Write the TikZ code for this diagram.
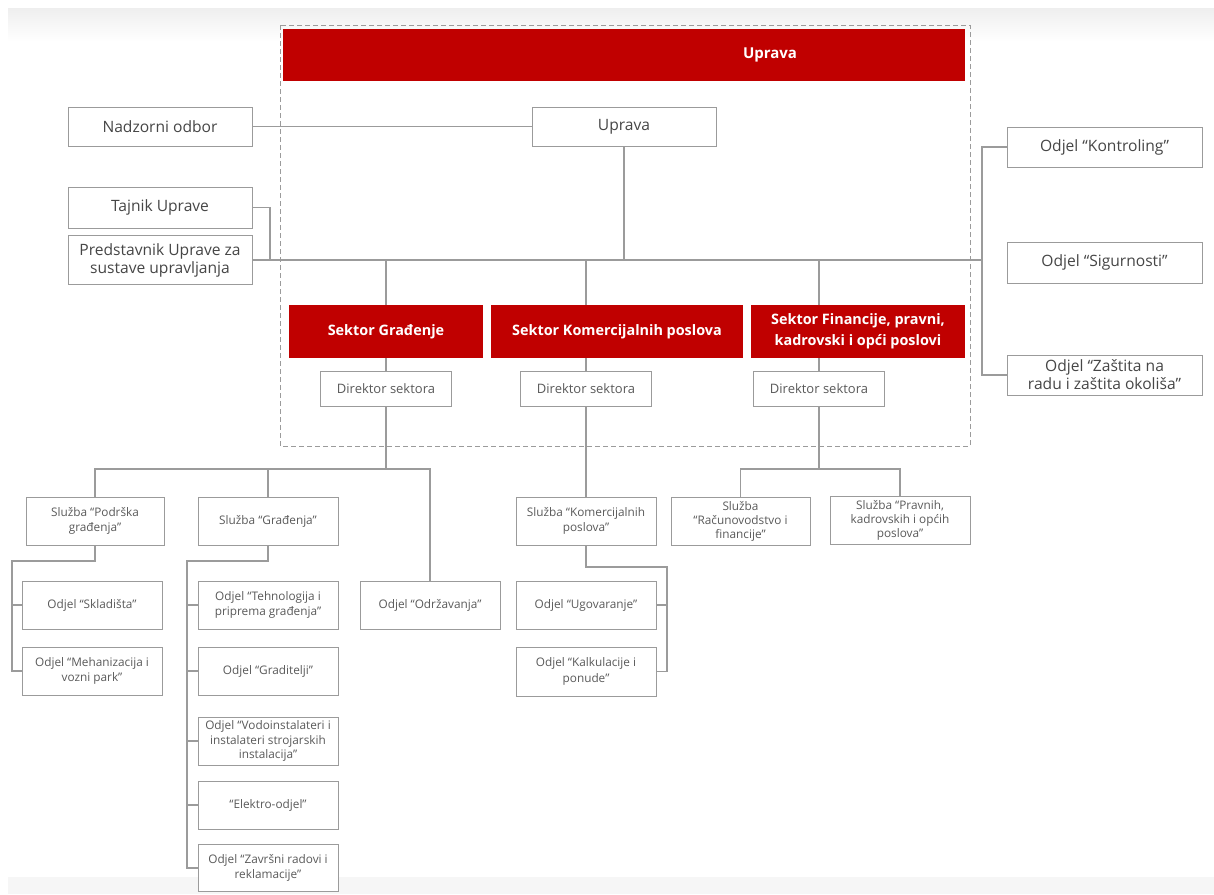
\documentclass[tikz,border=0pt]{standalone}
\usepackage{fontspec}
\setmainfont{Open Sans}
\definecolor{rred}{RGB}{192,0,0}
\definecolor{lgray}{RGB}{155,155,155}
\definecolor{tgray}{RGB}{70,70,70}
\definecolor{sgray}{RGB}{90,90,90}
\tikzset{
  box/.style={draw=lgray, line width=1pt, fill=white, inner sep=0pt, align=center, text=tgray, font=\fontsize{15.6}{18}\selectfont},
  smallbox/.style={draw=lgray, line width=1pt, fill=white, inner sep=0pt, align=center, text=sgray, font=\fontsize{11.8}{15.5}\selectfont, minimum width=140pt, minimum height=48pt},
  dirbox/.style={draw=lgray, line width=1pt, fill=white, inner sep=0pt, align=center, text=sgray, font=\fontsize{13}{15}\selectfont, minimum width=131pt, minimum height=35pt},
  redbox/.style={fill=rred, inner sep=0pt, align=center, text=white, font=\fontsize{14.4}{20.5}\selectfont\bfseries, minimum height=53pt},
  conn/.style={draw=lgray, line width=1.1pt},
}
\begin{document}
\begin{tikzpicture}[x=1pt,y=-1pt]
\useasboundingbox (0,0) rectangle (1214,894);
% background
\fill[white] (0,0) rectangle (1214,894);
\shade[top color=gray!13, bottom color=white] (8,8) rectangle (1214,42);
\fill[gray!7] (8,877) rectangle (1214,894);

% dashed container
\draw[lgray, dashed, line width=0.9pt, dash pattern=on 5pt off 3pt] (280,25) rectangle (970,446);

% banner
\node[redbox, minimum width=682pt, minimum height=52pt] (banner) at (624,55) {};
\node[text=white, font=\fontsize{15}{18}\selectfont\bfseries, inner sep=0pt] (bannerlabel) at (770,55) {Uprava};

% top level
\node[box, minimum width=184pt, minimum height=39pt] (uprava) at (624,126.5) {Uprava};
\node[box, minimum width=184pt, minimum height=39pt] (nadzor) at (160,126.5) {Nadzorni odbor};
\node[box, minimum width=184pt, minimum height=41pt] (tajnik) at (160,207.5) {Tajnik Uprave};
\node[box, minimum width=184pt, minimum height=49pt] (predst) at (160,260) {Predstavnik Uprave za\\sustave upravljanja};

\node[box, minimum width=195pt, minimum height=40pt] (kontrol) at (1104.5,147) {Odjel “Kontroling”};
\node[box, minimum width=195pt, minimum height=41pt] (sigurn) at (1104.5,262.5) {Odjel “Sigurnosti”};
\node[box, minimum width=195pt, minimum height=40pt] (zastita) at (1104.5,375) {Odjel “Zaštita na\\radu i zaštita okoliša”};

% sectors
\node[redbox, minimum width=194pt] (sekG) at (386,331.5) {Sektor Građenje};
\node[redbox, minimum width=252pt] (sekK) at (617,331.5) {Sektor Komercijalnih poslova};
\node[redbox, minimum width=214pt] (sekF) at (858,331.5) {Sektor Financije, pravni,\\kadrovski i opći poslovi};

\node[dirbox] (dirG) at (386,388.5) {Direktor sektora};
\node[dirbox] (dirK) at (586,388.5) {Direktor sektora};
\node[dirbox] (dirF) at (819,388.5) {Direktor sektora};

% Gradjenje branch
\node[smallbox, minimum width=138pt] (podrska) at (95,521) {Služba “Podrška\\građenja”};
\node[smallbox] (sgradj) at (268,521) {Služba “Građenja”};
\node[smallbox] (odrz) at (430,605) {Odjel “Održavanja”};
\node[smallbox] (sklad) at (92,605) {Odjel “Skladišta”};
\node[smallbox] (mehan) at (92,671) {Odjel “Mehanizacija i\\vozni park”};
\node[smallbox] (tehno) at (268,605) {Odjel “Tehnologija i\\priprema građenja”};
\node[smallbox] (gradit) at (268,671) {Odjel “Graditelji”};
\node[smallbox, font=\fontsize{11.8}{14.5}\selectfont] (vodo) at (268,741) {Odjel “Vodoinstalateri i\\instalateri strojarskih\\instalacija”};
\node[smallbox] (elektro) at (268,805) {“Elektro-odjel”};
\node[smallbox, minimum height=47pt] (zavrs) at (268,868) {Odjel “Završni radovi i\\reklamacije”};

% Komercijalni branch
\node[smallbox] (skom) at (586,521) {Služba “Komercijalnih\\poslova”};
\node[smallbox] (ugov) at (586,605) {Odjel “Ugovaranje”};
\node[smallbox, minimum height=49pt] (kalk) at (586,671.5) {Odjel “Kalkulacije i\\ponude”};

% Financije branch
\node[smallbox, minimum width=139pt, font=\fontsize{11.8}{14}\selectfont] (racun) at (740.5,521) {Služba\\“Računovodstvo i\\financije”};
\node[smallbox, font=\fontsize{11.8}{14}\selectfont] (pravn) at (900,520) {Služba “Pravnih,\\kadrovskih i općih\\poslova”};

% coordinates
\coordinate (mainR) at (982,260);
\coordinate (tj) at (270,260);
\coordinate (gbus) at (386,469);
\coordinate (fbus) at (819,469);
\coordinate (plx) at (12,561);
\coordinate (glx) at (187,561);
\coordinate (krx) at (667,567);

% connectors
\draw[conn] (nadzor.east) -- (uprava.west);
\draw[conn] (predst.east) -- (mainR);
\draw[conn] (tajnik.east) -| (tj);
\draw[conn] (uprava.south) -- (uprava.south |- mainR);
\draw[conn] (kontrol.west) -- (kontrol.west -| mainR) -- (zastita.west -| mainR) -- (zastita.west);

\draw[conn] (sekG.north) -- (sekG.north |- mainR);
\draw[conn] (dirK.north |- sekK.north) -- (dirK.north |- mainR);
\draw[conn] (dirF.north |- sekF.north) -- (dirF.north |- mainR);
\draw[conn] (sekG.south) -- (dirG.north);
\draw[conn] (dirK.north |- sekK.south) -- (dirK.north);
\draw[conn] (dirF.north |- sekF.south) -- (dirF.north);

\draw[conn] (dirG.south) -- (gbus);
\draw[conn] (podrska.north) |- (odrz.north |- gbus) -- (odrz.north);
\draw[conn] (sgradj.north) -- (sgradj.north |- gbus);

\draw[conn] (podrska.south) |- (plx) |- (mehan.west);
\draw[conn] (sklad.west) -- (sklad.west -| plx);

\draw[conn] (sgradj.south) |- (glx) |- (zavrs.west);
\draw[conn] (tehno.west) -- (tehno.west -| glx);
\draw[conn] (gradit.west) -- (gradit.west -| glx);
\draw[conn] (vodo.west) -- (vodo.west -| glx);
\draw[conn] (elektro.west) -- (elektro.west -| glx);

\draw[conn] (dirK.south) -- (skom.north);
\draw[conn] (skom.south) |- (krx) |- (kalk.east);
\draw[conn] (ugov.east) -- (ugov.east -| krx);

\draw[conn] (dirF.south) -- (fbus);
\draw[conn] (racun.north) |- (pravn.north |- fbus) -- (pravn.north);
\end{tikzpicture}
\end{document}
